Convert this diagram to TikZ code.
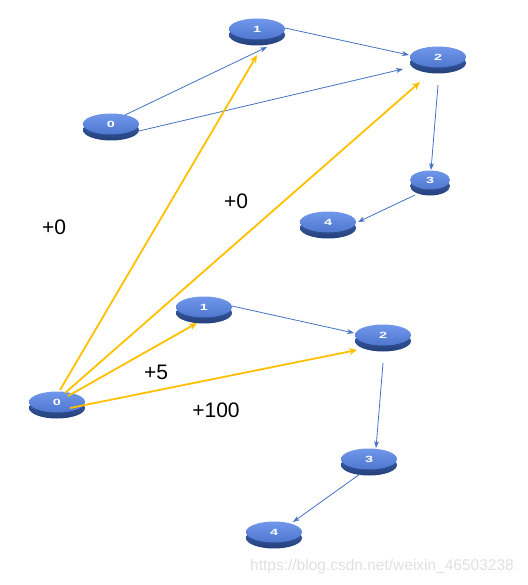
\documentclass[tikz,border=0pt]{standalone}
\usepackage{fontspec}
\setmainfont{Liberation Sans}
\setsansfont{Liberation Sans}
\usetikzlibrary{shadows,arrows.meta,calc,shapes.geometric}
\definecolor{disktop}{HTML}{7097EA}
\definecolor{diskbot}{HTML}{4F77CF}
\definecolor{diskrimA}{HTML}{3F62B0}
\definecolor{diskrimB}{HTML}{24407A}
\definecolor{bluearr}{HTML}{4472C4}
\definecolor{goldarr}{HTML}{FFC000}
\tikzset{
  disk/.style={ellipse, minimum width=56pt, minimum height=21pt, inner sep=0pt,
    top color=disktop, bottom color=diskbot,
    general shadow={top color=diskrimA, bottom color=diskrimB, shadow yshift=-6pt},
    text=white, font=\sffamily\bfseries\fontsize{9}{9}\selectfont},
  smalldisk/.style={disk, minimum width=40pt, minimum height=19pt},
  bl/.style={draw=bluearr, line width=0.8pt, -{Stealth[length=7pt,width=5pt]}},
  yl/.style={draw=goldarr, line width=1.8pt, -{Stealth[length=8pt,width=7pt]}},
  lab/.style={font=\fontsize{21}{24}\selectfont, text=black},
}
\newcommand{\wl}[1]{\scalebox{1.6}[1]{#1}}
\begin{document}
\begin{tikzpicture}[x=1pt,y=-1pt]
\useasboundingbox (0,0) rectangle (527,585);
% top graph
\node[disk] (t0) at (111,124) {\wl{0}};
\node[disk] (t1) at (257,29) {\wl{1}};
\node[disk] (t2) at (438,57) {\wl{2}};
\node[smalldisk] (t3) at (430,180) {\wl{3}};
\node[disk] (t4) at (328,222) {\wl{4}};
% bottom graph
\node[disk] (b0) at (57,402) {\wl{0}};
\node[disk] (b1) at (204,307) {\wl{1}};
\node[disk] (b2) at (383,335) {\wl{2}};
\node[disk] (b3) at (369,459) {\wl{3}};
\node[disk] (b4) at (274,532) {\wl{4}};
% blue edges top
\draw[bl] ($(t0)+(14,-9)$) -- ($(t1)+(10,18)$);
\draw[bl] ($(t0)+(28,7)$) -- ($(t2)+(-35,12)$);
\draw[bl] ($(t1)+(28,-1)$) -- ($(t2)+(-29,-2)$);
\draw[bl] ($(t2)+(0,28)$) -- ($(t3)+(1,-10)$);
\draw[bl] ($(t3)+(-15,15)$) -- ($(t4)+(30,0)$);
% blue edges bottom
\draw[bl] ($(b1)+(28,-1)$) -- ($(b2)+(-29,-2)$);
\draw[bl] ($(b2)+(0,28)$) -- ($(b3)+(7,-11)$);
\draw[bl] ($(b3)+(-9,15)$) -- ($(b4)+(19,-10)$);
% yellow edges
\draw[yl] ($(b0)+(3,-12)$) -- ($(t1)+(0,26)$);
\draw[yl] ($(b0)+(8,-9)$) -- ($(t2)+(-18,25)$);
\draw[yl] ($(b0)+(11,-6)$) -- ($(b1)+(-7,16)$);
\draw[yl] ($(b0)+(13,6)$) -- ($(b2)+(-26,15)$);
% labels
\node[lab] (l1) at (54,227) {+0};
\node[lab] (l2) at (236,201) {+0};
\node[lab] (l3) at (156,372) {+5};
\node[lab] (l4) at (216,410) {+100};
\node[text=black!12, font=\fontsize{15.5}{18}\selectfont] (wm) at (382,566) {https://blog.csdn.net/weixin\_46503238};
\end{tikzpicture}
\end{document}
